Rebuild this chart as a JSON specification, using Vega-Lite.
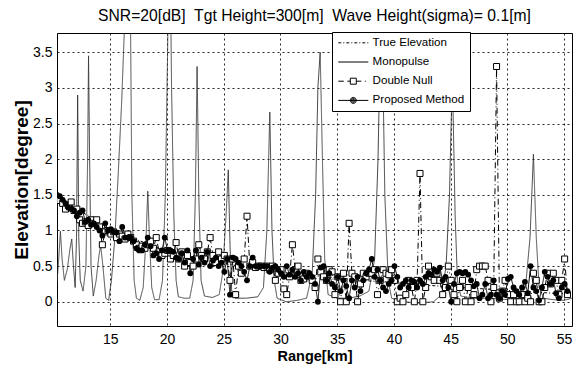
{
"$schema":"https://vega.github.io/schema/vega-lite/v6.json",
"width":515,"height":293,
"autosize":{"type":"none"},
"padding":{"left":57,"top":33,"right":11,"bottom":43},
"background":"white",
"title":{"text":"SNR=20[dB]\u00a0 Tgt Height=300[m]\u00a0 Wave Height(sigma)= 0.1[m]","font":"Liberation Sans","fontSize":15.7,"fontWeight":"normal","color":"black","offset":7,"anchor":"middle"},
"config":{
 "view":{"stroke":"black","strokeWidth":1},
 "axis":{"labelFont":"Liberation Sans","labelFontSize":14,"labelColor":"black","titleFont":"Liberation Sans","titleFontSize":14.5,"titleFontWeight":"bold","titleColor":"black","grid":true,"gridColor":"black","gridDash":[2,3],"gridOpacity":0.85,"gridWidth":1,"domain":false,"ticks":false},
 "axisX":{"labelPadding":6,"titlePadding":3},
 "axisY":{"labelPadding":5,"titlePadding":1,"titleFontSize":19}
},
"datasets":{
"te":[{"r":10.3,"v":1.5},{"r":11,"v":1.42},{"r":12,"v":1.31},{"r":13,"v":1.21},{"r":14,"v":1.11},{"r":15,"v":1.03},{"r":16,"v":0.96},{"r":17,"v":0.89},{"r":18,"v":0.83},{"r":19,"v":0.77},{"r":20,"v":0.72},{"r":21,"v":0.68},{"r":22,"v":0.64},{"r":23,"v":0.6},{"r":24,"v":0.57},{"r":25,"v":0.54},{"r":26,"v":0.51},{"r":27,"v":0.48},{"r":28,"v":0.46},{"r":29,"v":0.44},{"r":30,"v":0.42},{"r":32,"v":0.38},{"r":34,"v":0.35},{"r":36,"v":0.32},{"r":38,"v":0.29},{"r":40,"v":0.27},{"r":42,"v":0.24},{"r":44,"v":0.22},{"r":46,"v":0.2},{"r":48,"v":0.18},{"r":50,"v":0.16},{"r":52,"v":0.14},{"r":54,"v":0.12},{"r":55.3,"v":0.11}],
"mp":[{"r":10.3,"v":0.27},{"r":10.45,"v":0.6},{"r":10.6,"v":0.99},{"r":10.75,"v":0.6},{"r":10.95,"v":0.3},{"r":11.2,"v":0.45},{"r":11.45,"v":0.75},{"r":11.6,"v":0.88},{"r":11.75,"v":0.5},{"r":11.9,"v":0.2},{"r":12.02,"v":0.9},{"r":12.12,"v":2.9},{"r":12.22,"v":0.9},{"r":12.35,"v":0.3},{"r":12.6,"v":0.15},{"r":12.85,"v":0.5},{"r":13.0,"v":2.0},{"r":13.08,"v":3.45},{"r":13.16,"v":2.2},{"r":13.3,"v":0.5},{"r":13.5,"v":0.08},{"r":13.75,"v":0.3},{"r":14.0,"v":0.65},{"r":14.15,"v":0.78},{"r":14.35,"v":0.5},{"r":14.6,"v":0.05},{"r":14.85,"v":0.02},{"r":15.1,"v":0.3},{"r":15.4,"v":0.9},{"r":15.7,"v":1.8},{"r":16.0,"v":2.8},{"r":16.4,"v":4.5},{"r":16.68,"v":6},{"r":16.9,"v":1.5},{"r":17.1,"v":0.3},{"r":17.3,"v":0.05},{"r":17.6,"v":0.02},{"r":17.9,"v":0.2},{"r":18.15,"v":0.9},{"r":18.3,"v":1.55},{"r":18.45,"v":0.9},{"r":18.65,"v":0.2},{"r":18.9,"v":0.03},{"r":19.3,"v":0.03},{"r":19.6,"v":0.3},{"r":19.85,"v":1.5},{"r":20.05,"v":3.5},{"r":20.2,"v":6},{"r":20.4,"v":3.0},{"r":20.6,"v":1.2},{"r":20.8,"v":0.3},{"r":21.0,"v":0.07},{"r":21.5,"v":0.05},{"r":22.0,"v":0.05},{"r":22.3,"v":0.3},{"r":22.5,"v":1.5},{"r":22.65,"v":3.3},{"r":22.8,"v":1.5},{"r":23.0,"v":0.3},{"r":23.3,"v":0.08},{"r":24.0,"v":0.06},{"r":24.6,"v":0.1},{"r":24.9,"v":0.4},{"r":25.2,"v":1.2},{"r":25.4,"v":1.85},{"r":25.55,"v":0.8},{"r":25.7,"v":0.15},{"r":26.0,"v":0.05},{"r":27.0,"v":0.05},{"r":28.0,"v":0.07},{"r":28.5,"v":0.2},{"r":28.8,"v":1.0},{"r":29.06,"v":2.66},{"r":29.25,"v":1.0},{"r":29.45,"v":0.3},{"r":29.7,"v":0.05},{"r":30.5,"v":0.0},{"r":31.5,"v":0.02},{"r":32.3,"v":0.05},{"r":32.8,"v":0.4},{"r":33.1,"v":1.5},{"r":33.3,"v":3.0},{"r":33.5,"v":3.5},{"r":33.7,"v":2.0},{"r":33.9,"v":0.6},{"r":34.2,"v":0.1},{"r":35,"v":0.05},{"r":36,"v":0.05},{"r":37,"v":0.08},{"r":37.8,"v":0.15},{"r":38.3,"v":0.6},{"r":38.6,"v":2.0},{"r":38.9,"v":4.5},{"r":39.2,"v":1.5},{"r":39.5,"v":0.3},{"r":39.8,"v":0.05},{"r":41,"v":0.0},{"r":42,"v":-0.02},{"r":43.5,"v":0.0},{"r":44.2,"v":0.1},{"r":44.6,"v":0.5},{"r":44.9,"v":1.5},{"r":45.15,"v":3.2},{"r":45.4,"v":1.2},{"r":45.6,"v":0.3},{"r":45.9,"v":0.08},{"r":47,"v":0.05},{"r":48.5,"v":0.05},{"r":50,"v":0.03},{"r":51,"v":0.05},{"r":51.6,"v":0.2},{"r":52.0,"v":0.9},{"r":52.3,"v":2.07},{"r":52.55,"v":0.9},{"r":52.8,"v":0.2},{"r":53.2,"v":0.05},{"r":54,"v":0.03},{"r":55,"v":0.02},{"r":55.7,"v":0.05}],
"pts":[
{"r":10.3,"d":1.45,"p":1.5},{"r":10.55,"d":1.42,"p":1.48},{"r":10.8,"d":1.38,"p":1.43},{"r":11.05,"d":1.3,"p":1.38},{"r":11.3,"d":1.35,"p":1.32},{"r":11.55,"d":1.4,"p":1.3},{"r":11.8,"d":1.28,"p":1.28},{"r":12.05,"d":1.3,"p":1.2},{"r":12.3,"d":1.15,"p":1.25},{"r":12.55,"d":1.1,"p":1.28},{"r":12.8,"d":1.12,"p":1.12},{"r":13.05,"d":1.07,"p":1.15},{"r":13.3,"d":1.15,"p":1.08},{"r":13.55,"d":1.1,"p":1.1},{"r":13.8,"d":1.15,"p":1.05},{"r":14.05,"d":1.05,"p":1.0},{"r":14.3,"d":0.8,"p":0.93},{"r":14.55,"d":0.98,"p":1.1},{"r":14.8,"d":1.0,"p":1.0},{"r":15.05,"d":0.95,"p":1.02},{"r":15.3,"d":0.98,"p":0.98},{"r":15.55,"d":0.9,"p":0.97},{"r":15.8,"d":0.95,"p":0.85},{"r":16.05,"d":0.92,"p":1.05},{"r":16.3,"d":0.88,"p":0.9},{"r":16.55,"d":0.95,"p":0.9},{"r":16.8,"d":0.9,"p":0.9},{"r":17.05,"d":0.85,"p":0.85},{"r":17.3,"d":0.8,"p":0.75},{"r":17.55,"d":0.75,"p":0.72},{"r":17.8,"d":0.78,"p":0.72},{"r":18.05,"d":0.75,"p":0.8},{"r":18.3,"d":0.8,"p":0.9},{"r":18.55,"d":0.85,"p":0.78},{"r":18.8,"d":0.75,"p":0.65},{"r":19.05,"d":0.9,"p":0.68},{"r":19.3,"d":0.7,"p":0.6},{"r":19.55,"d":0.65,"p":0.72},{"r":19.8,"d":0.68,"p":0.9},{"r":20.05,"d":0.72,"p":0.72},{"r":20.3,"d":0.6,"p":0.72},{"r":20.55,"d":0.65,"p":0.7},{"r":20.8,"d":0.83,"p":0.62},{"r":21.05,"d":0.6,"p":0.6},{"r":21.3,"d":0.7,"p":0.68},{"r":21.55,"d":0.5,"p":0.55},{"r":21.8,"d":0.65,"p":0.72},{"r":22.05,"d":0.55,"p":0.4},{"r":22.3,"d":0.5,"p":0.6},{"r":22.55,"d":0.6,"p":0.72},{"r":22.8,"d":0.8,"p":0.52},{"r":23.05,"d":0.65,"p":0.62},{"r":23.3,"d":0.6,"p":0.55},{"r":23.55,"d":0.7,"p":0.7},{"r":23.8,"d":0.9,"p":0.5},{"r":24.05,"d":0.65,"p":0.58},{"r":24.3,"d":0.55,"p":0.62},{"r":24.55,"d":0.7,"p":0.5},{"r":24.8,"d":0.6,"p":0.55},{"r":25.05,"d":0.65,"p":0.42},{"r":25.3,"d":0.6,"p":0.6},{"r":25.55,"d":0.3,"p":0.1},{"r":25.8,"d":0.6,"p":0.62},{"r":26.05,"d":0.1,"p":0.6},{"r":26.3,"d":0.5,"p":0.55},{"r":26.55,"d":0.4,"p":0.5},{"r":26.8,"d":0.6,"p":0.42},{"r":27.05,"d":1.2,"p":0.3},{"r":27.3,"d":0.5,"p":0.5},{"r":27.55,"d":0.55,"p":0.62},{"r":27.8,"d":0.48,"p":0.5},{"r":28.05,"d":0.5,"p":0.5},{"r":28.3,"d":0.5,"p":0.5},{"r":28.55,"d":0.48,"p":0.5},{"r":28.8,"d":0.5,"p":0.5},{"r":29.05,"d":0.45,"p":0.42},{"r":29.3,"d":0.5,"p":0.48},{"r":29.55,"d":0.3,"p":0.5},{"r":29.8,"d":0.4,"p":0.45},{"r":30.05,"d":0.45,"p":0.4},{"r":30.3,"d":0.18,"p":0.35},{"r":30.55,"d":0.1,"p":0.5},{"r":30.8,"d":0.35,"p":0.38},{"r":31.05,"d":0.8,"p":0.45},{"r":31.3,"d":0.45,"p":0.35},{"r":31.55,"d":0.5,"p":0.4},{"r":31.8,"d":0.3,"p":0.3},{"r":32.05,"d":0.32,"p":0.42},{"r":32.3,"d":0.4,"p":0.35},{"r":32.55,"d":0.35,"p":0.4},{"r":32.8,"d":0.3,"p":0.35},{"r":33.05,"d":0.2,"p":0.25},{"r":33.3,"d":0.6,"p":0.0},{"r":33.55,"d":0.42,"p":0.48},{"r":33.8,"d":0.35,"p":0.5},{"r":34.05,"d":0.3,"p":0.3},{"r":34.3,"d":0.45,"p":0.4},{"r":34.55,"d":0.42,"p":0.25},{"r":34.8,"d":0.1,"p":0.2},{"r":35.05,"d":0.35,"p":0.35},{"r":35.3,"d":0.0,"p":0.15},{"r":35.55,"d":0.4,"p":0.3},{"r":35.8,"d":0.0,"p":0.22},{"r":36.05,"d":1.1,"p":0.05},{"r":36.3,"d":0.4,"p":0.3},{"r":36.55,"d":0.35,"p":0.2},{"r":36.8,"d":0.0,"p":0.35},{"r":37.05,"d":0.25,"p":0.15},{"r":37.3,"d":0.4,"p":0.3},{"r":37.55,"d":0.35,"p":0.4},{"r":37.8,"d":0.4,"p":0.45},{"r":38.05,"d":0.4,"p":0.6},{"r":38.3,"d":0.45,"p":0.35},{"r":38.55,"d":0.1,"p":0.45},{"r":38.8,"d":0.3,"p":0.3},{"r":39.05,"d":0.45,"p":0.2},{"r":39.3,"d":0.4,"p":0.15},{"r":39.55,"d":0.38,"p":0.25},{"r":39.8,"d":0.45,"p":0.3},{"r":40.05,"d":0.3,"p":0.5},{"r":40.3,"d":0.0,"p":0.35},{"r":40.55,"d":0.05,"p":0.2},{"r":40.8,"d":0.0,"p":0.25},{"r":41.05,"d":0.1,"p":0.3},{"r":41.3,"d":0.3,"p":0.2},{"r":41.55,"d":0.2,"p":0.3},{"r":41.8,"d":0.0,"p":0.28},{"r":42.05,"d":0.3,"p":0.2},{"r":42.3,"d":1.8,"p":0.3},{"r":42.55,"d":0.0,"p":0.25},{"r":42.8,"d":0.2,"p":0.35},{"r":43.05,"d":0.5,"p":0.4},{"r":43.3,"d":0.35,"p":0.38},{"r":43.55,"d":0.3,"p":0.45},{"r":43.8,"d":0.4,"p":0.42},{"r":44.05,"d":0.3,"p":0.48},{"r":44.3,"d":0.1,"p":0.3},{"r":44.55,"d":0.2,"p":0.35},{"r":44.8,"d":0.5,"p":0.2},{"r":45.05,"d":0.3,"p":0.0},{"r":45.3,"d":0.1,"p":0.25},{"r":45.55,"d":0.0,"p":0.4},{"r":45.8,"d":0.2,"p":0.42},{"r":46.05,"d":0.3,"p":0.4},{"r":46.3,"d":0.0,"p":0.42},{"r":46.55,"d":0.2,"p":0.38},{"r":46.8,"d":0.0,"p":0.3},{"r":47.05,"d":0.1,"p":0.22},{"r":47.3,"d":0.45,"p":0.25},{"r":47.55,"d":0.5,"p":0.05},{"r":47.8,"d":0.5,"p":0.1},{"r":48.05,"d":0.5,"p":0.25},{"r":48.3,"d":0.3,"p":0.05},{"r":48.55,"d":0.0,"p":0.1},{"r":48.8,"d":0.2,"p":0.3},{"r":49.05,"d":3.3,"p":0.1},{"r":49.3,"d":0.05,"p":0.05},{"r":49.55,"d":0.15,"p":0.15},{"r":49.8,"d":0.3,"p":0.1},{"r":50.05,"d":0.1,"p":0.32},{"r":50.3,"d":0.0,"p":0.35},{"r":50.55,"d":0.1,"p":0.2},{"r":50.8,"d":0.0,"p":0.15},{"r":51.05,"d":0.0,"p":0.1},{"r":51.3,"d":0.1,"p":0.2},{"r":51.55,"d":0.0,"p":0.28},{"r":51.8,"d":0.05,"p":0.12},{"r":52.05,"d":0.0,"p":0.5},{"r":52.3,"d":0.4,"p":0.2},{"r":52.55,"d":0.3,"p":0.15},{"r":52.8,"d":0.0,"p":0.02},{"r":53.05,"d":0.0,"p":0.2},{"r":53.3,"d":0.2,"p":0.42},{"r":53.55,"d":0.4,"p":0.35},{"r":53.8,"d":0.25,"p":0.25},{"r":54.05,"d":0.4,"p":0.3},{"r":54.3,"d":0.3,"p":0.12},{"r":54.55,"d":0.1,"p":0.05},{"r":54.8,"d":0.3,"p":0.2},{"r":55.05,"d":0.6,"p":0.25},{"r":55.3,"d":0.1,"p":0.15}
]},
"layer":[
{"data":{"name":"mp"},"mark":{"type":"line","clip":true,"color":"#333","strokeWidth":0.9},
 "encoding":{
  "x":{"field":"r","type":"quantitative","title":"Range[km]","scale":{"domain":[10.3,55.7],"nice":false,"zero":false},"axis":{"values":[15,20,25,30,35,40,45,50,55]}},
  "y":{"field":"v","type":"quantitative","title":"Elevation[degree]","scale":{"domain":[-0.34,3.77],"nice":false,"zero":false},"axis":{"values":[0,0.5,1,1.5,2,2.5,3,3.5],"format":"~g"}},
  "strokeDash":{"datum":"MP","type":"nominal","legend":null,
   "scale":{"domain":["TE","MP","DN","PM"],"range":[[3,2,1,2],[1,0],[6,3,1,3],[1,0]]}}
 }},
{"data":{"name":"te"},"mark":{"type":"line","clip":true,"color":"black","strokeWidth":1},
 "encoding":{"x":{"field":"r","type":"quantitative"},"y":{"field":"v","type":"quantitative"},"strokeDash":{"datum":"TE","type":"nominal","legend":null}}},
{"data":{"name":"pts"},"mark":{"type":"line","clip":true,"color":"black","strokeWidth":1},
 "encoding":{"x":{"field":"r","type":"quantitative"},"y":{"field":"d","type":"quantitative"},"strokeDash":{"datum":"DN","type":"nominal","legend":null}}},
{"data":{"name":"pts"},"mark":{"type":"line","clip":true,"color":"black","strokeWidth":1},
 "encoding":{"x":{"field":"r","type":"quantitative"},"y":{"field":"p","type":"quantitative"},"strokeDash":{"datum":"PM","type":"nominal","legend":null}}},
{"data":{"name":"pts"},"mark":{"type":"point","shape":"square","filled":true,"fill":"white","stroke":"black","strokeWidth":1,"size":36,"opacity":1,"clip":true},
 "encoding":{"x":{"field":"r","type":"quantitative"},"y":{"field":"d","type":"quantitative"}}},
{"data":{"name":"pts"},"mark":{"type":"point","shape":"circle","filled":true,"color":"black","size":34,"opacity":1,"clip":true},
 "encoding":{"x":{"field":"r","type":"quantitative"},"y":{"field":"p","type":"quantitative"}}},
{"data":{"name":"te"},"mark":{"type":"point","filled":false,"color":"black","opacity":0,"size":4,"clip":true},
 "encoding":{"x":{"field":"r","type":"quantitative"},"y":{"field":"v","type":"quantitative"},
  "shape":{"datum":"True Elevation","type":"nominal",
   "scale":{"domain":["True Elevation","Monopulse","Double Null","Proposed Method"],
    "range":["M-3,0H-2.4M-2,0H-1.8M-1.4,0H-0.8M-0.4,0H-0.2M0.2,0H0.8M1.2,0H1.4M1.8,0H2.4M2.8,0H3","M-3,0H3","M-3,0H-1.9M-1.2,0H-0.6M0.6,0H1.6M2.3,0H2.5M-0.6,-0.6H0.6V0.6H-0.6Z","M-3,0H3M-0.6,0A0.6,0.6,0,1,0,0.6,0A0.6,0.6,0,1,0,-0.6,0M-0.4,0A0.4,0.4,0,1,0,0.4,0A0.4,0.4,0,1,0,-0.4,0M-0.2,0A0.2,0.2,0,1,0,0.2,0A0.2,0.2,0,1,0,-0.2,0"]},
   "legend":{"orient":"none","legendX":275,"legendY":-1,"title":null,"padding":5,"strokeColor":"black","fillColor":"white","symbolSize":100,"symbolOffset":10.5,"labelOffset":13.5,"labelFont":"Liberation Sans","labelFontSize":11.6,"labelColor":"black","rowPadding":6.2,"symbolOpacity":1,"symbolFillColor":"transparent","symbolStrokeColor":"black","symbolStrokeWidth":1}}}}
]
}
